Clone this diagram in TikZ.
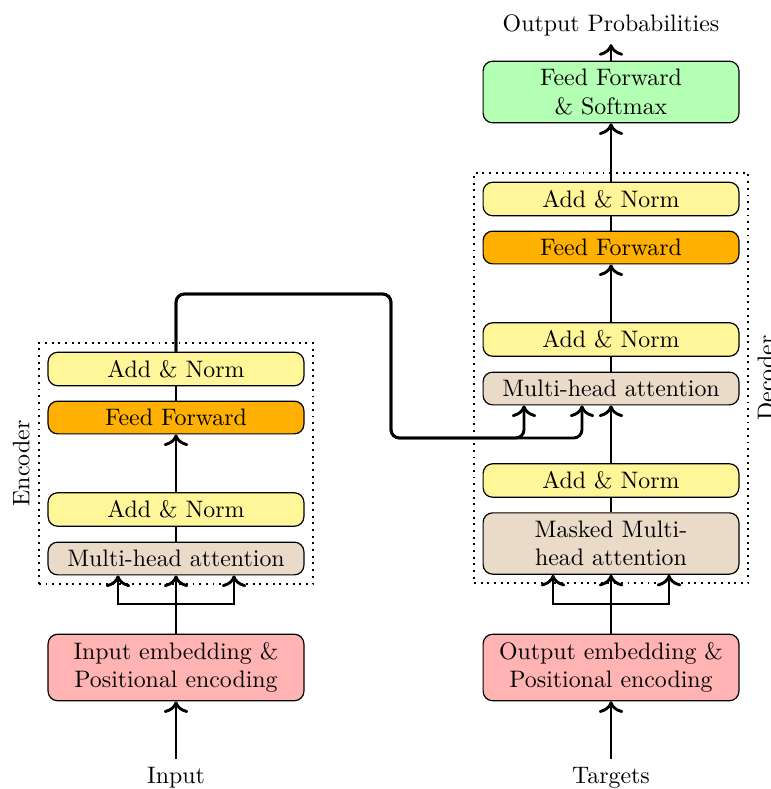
\documentclass[tikz,border=0pt]{standalone}
\usetikzlibrary{calc,fit,arrows.meta}

\definecolor{normYellow}{RGB}{255,245,153}
\definecolor{ffOrange}{RGB}{255,176,0}
\definecolor{attnBeige}{RGB}{234,218,200}
\definecolor{embedPink}{RGB}{255,179,179}
\definecolor{softGreen}{RGB}{179,255,179}

\begin{document}
\begin{tikzpicture}[x=0.41929pt,y=-0.41929pt,
  >={To[scale=1.15]},
  block/.style={draw=black, line width=0.5pt, rounded corners=4pt,
                text width=100.6pt, align=center, inner sep=3.33pt},
  addnorm/.style={block, fill=normYellow},
  feedfwd/.style={block, fill=ffOrange},
  attn/.style={block, fill=attnBeige},
  embed/.style={block, fill=embedPink},
  softmax/.style={block, fill=softGreen},
  flow/.style={very thick},
  stack/.style={draw, thick, dotted, inner sep=3.6pt},
  sidelabel/.style={rotate=90}]

\useasboundingbox (0,0) rectangle (771,789);

% ---------------- Encoder ----------------
\node[embed]   (eEmb) at (176,667.5) {Input embedding \&\\Positional encoding};
\node[attn]    (eMHA) at (176,558.5) {Multi-head attention};
\node[addnorm] (eAN1) at (176,509.5) {Add \& Norm};
\node[feedfwd] (eFF)  at (176,417.5) {Feed Forward};
\node[addnorm] (eAN2) at (176,369)   {Add \& Norm};
\node[stack, fit=(eAN2)(eMHA)] (encBox) {};
\node[sidelabel, anchor=south] (encLbl) at (encBox.west) {Encoder};
\node (inp) at (176,778) {Input};

% ---------------- Decoder ----------------
\node[embed]   (dEmb)  at (611,667.5) {Output embedding \&\\Positional encoding};
\node[attn]    (dMMHA) at (611,543.5) {Masked Multi-\\head attention};
\node[addnorm] (dAN1)  at (611,480.5) {Add \& Norm};
\node[attn]    (dMHA)  at (611,388.5) {Multi-head attention};
\node[addnorm] (dAN2)  at (611,339.5) {Add \& Norm};
\node[feedfwd] (dFF)   at (611,247.5) {Feed Forward};
\node[addnorm] (dAN3)  at (611,199)   {Add \& Norm};
\node[stack, fit=(dAN3)(dMMHA)] (decBox) {};
\node[sidelabel, anchor=north] (decLbl) at (decBox.east) {Decoder};
\node[softmax] (soft) at (611,92) {Feed Forward\\\& Softmax};
\node (tgt)  at (611,778) {Targets};
\node (outp) at (611,25)  {Output Probabilities};

% ---------------- Encoder connections ----------------
\draw[flow,->] (inp) -- (eEmb);
\coordinate (eSplit) at (176,604);
\draw[flow,->] (eEmb) -- (eMHA);
\draw[flow,->] (eEmb.north) -- (eSplit) -| ($(eMHA.south)+(-58,0)$);
\draw[flow,->] (eEmb.north) -- (eSplit) -| ($(eMHA.south)+(58,0)$);
\draw[flow] (eMHA) -- (eAN1);
\draw[flow,->] (eAN1) -- (eFF);
\draw[flow] (eFF) -- (eAN2);

% ---------------- Encoder output into the decoder ----------------
\coordinate (hopTop) at (391,294);
\coordinate (hopLow) at (391,438);
\draw[flow,->,rounded corners=3.5pt] (eAN2.north) |- (hopTop) -- (hopLow)
     -| ($(dMHA.south)+(-87,0)$);
\draw[flow,->,rounded corners=3.5pt] (eAN2.north) |- (hopTop) -- (hopLow)
     -| ($(dMHA.south)+(-29,0)$);

% ---------------- Decoder connections ----------------
\draw[flow,->] (tgt) -- (dEmb);
\coordinate (dSplit) at (611,604);
\draw[flow,->] (dEmb) -- (dMMHA);
\draw[flow,->] (dEmb.north) -- (dSplit) -| ($(dMMHA.south)+(-58,0)$);
\draw[flow,->] (dEmb.north) -- (dSplit) -| ($(dMMHA.south)+(58,0)$);
\draw[flow] (dMMHA) -- (dAN1);
\draw[flow,->] (dAN1) -- (dMHA);
\draw[flow] (dMHA) -- (dAN2);
\draw[flow,->] (dAN2) -- (dFF);
\draw[flow] (dFF) -- (dAN3);
\draw[flow,->] (dAN3) -- (soft);
\draw[flow,->] (soft) -- (outp);

\end{tikzpicture}
\end{document}
